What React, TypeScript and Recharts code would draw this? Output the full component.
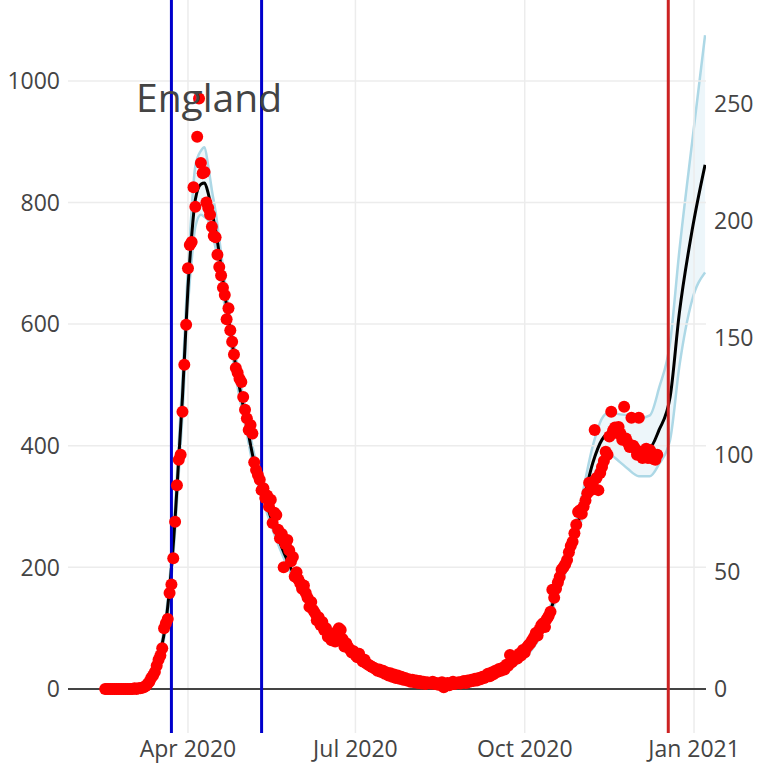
import {
  ComposedChart,
  Scatter,
  Line,
  Area,
  XAxis,
  YAxis,
  ReferenceLine,
} from 'recharts';

// day numbers count from 1 Jan 2020 = 0
const tickDays = [91, 182, 274, 366];
const tickLabels = ['Apr 2020', 'Jul 2020', 'Oct 2020', 'Jan 2021'];
const leftTicks = [0, 200, 400, 600, 800, 1000];
const rightTicks = [0, 50, 100, 150, 200, 250];

const lockdownDays = [82, 131];
const cutoffDay = 352;

// daily deaths, first value on day 46 (15 Feb 2020)
const firstDotDay = 46;
const dailyDeaths = [
  0, 0, 0, 0, 0, 0, 0, 0, 0, 0, 0, 0, 0, 0, 0, 0, 1, 0, 1, 1,
  2, 3, 5, 8, 12, 18, 22, 28, 38, 48, 55, 67, 100, 108, 115, 158, 172, 215, 275, 335,
  377, 385, 456, 533, 599, 692, 730, 735, 825, 793, 908, 971, 865, 848, 850, 800, 791, 780, 760, 745,
  743, 714, 694, 680, 660, 648, 608, 626, 590, 571, 550, 528, 520, 510, 505, 480, 459, 445, 426, 434,
  420, 373, 360, 352, 344, 327, 330, 314, 318, 300, 311, 273, 290, 286, 262, 248, 255, 200, 238, 245,
  228, 210, 217, 185, 192, 180, 174, 165, 170, 158, 150, 135, 143, 130, 125, 113, 118, 105, 110, 97,
  100, 86, 90, 80, 85, 78, 95, 100, 97, 82, 70, 75, 69, 65, 60, 62, 56, 52, 58, 50,
  45, 48, 42, 40, 38, 36, 35, 33, 30, 32, 28, 30, 25, 27, 22, 26, 20, 24, 18, 22,
  17, 20, 15, 18, 14, 16, 12, 15, 11, 14, 10, 13, 9, 12, 8, 11, 10, 9, 12, 8,
  10, 7, 9, 11, 3, 8, 10, 6, 9, 12, 8, 10, 11, 9, 12, 13, 10, 14, 12, 15,
  13, 17, 14, 18, 16, 20, 18, 22, 25, 21, 27, 24, 30, 28, 33, 30, 35, 32, 40, 38,
  56, 44, 48, 52, 50, 58, 55, 64, 60, 68, 72, 75, 80, 85, 92, 88, 98, 105, 108, 102,
  115, 120, 127, 163, 150, 165, 175, 184, 196, 200, 205, 212, 225, 235, 242, 256, 270, 291, 294, 288,
  300, 310, 322, 339, 327, 340, 426, 347, 327, 355, 365, 375, 390, 385, 415, 456, 425, 430, 421, 431,
  420, 410, 464, 412, 405, 398, 446, 400, 395, 385, 446, 390, 380, 388, 395, 380, 393, 388, 378, 377,
  385,
];

// smoothed fit and its band
const modelDays = [
  46, 60, 65, 68, 70, 73, 76, 79, 81, 84, 86, 88, 91, 93, 95, 98, 100, 102, 104, 106,
  108, 111, 114, 117, 122, 127, 133, 141, 152, 163, 174, 184, 195, 206, 217, 228, 239, 250, 261, 271,
  278, 284, 289, 294, 299, 304, 311, 316, 320, 325, 330, 336, 342, 347, 353, 358, 365, 372,
];
const modelMid = [
  0, 0, 2, 6, 12, 30, 60, 110, 165, 280, 380, 480, 660, 745, 805, 830, 832, 815, 785, 755,
  715, 650, 590, 530, 450, 372, 310, 240, 168, 115, 78, 52, 32, 20, 13, 9, 10, 16, 28, 48,
  70, 100, 138, 182, 230, 285, 372, 410, 421, 414, 405, 395, 397, 426, 480, 618, 755, 862,
];
const modelLo = [
  0, 0, 1, 5, 10, 26, 54, 100, 150, 260, 355, 450, 630, 705, 760, 780, 776, 770, 750, 725,
  690, 628, 570, 512, 435, 358, 298, 230, 160, 109, 73, 48, 29, 18, 11, 7, 8, 14, 25, 44,
  65, 94, 130, 172, 218, 268, 345, 378, 385, 375, 362, 350, 350, 370, 410, 530, 640, 685,
];
const modelHi = [
  1, 1, 3, 7, 14, 34, 66, 120, 180, 300, 405, 510, 695, 790, 860, 885, 891, 860, 820, 785,
  740, 672, 610, 548, 465, 386, 322, 250, 176, 121, 83, 56, 35, 22, 15, 11, 12, 18, 31, 52,
  75, 106, 146, 192, 242, 302, 400, 445, 455, 452, 450, 445, 450, 495, 570, 720, 900, 1075,
];

const dots = dailyDeaths.map((v, i) => ({ day: firstDotDay + i, deaths: v }));
const model = modelDays.map((d, i) => ({
  day: d,
  mid: modelMid[i],
  band: [modelLo[i], modelHi[i]],
}));

const font = '"Open Sans", sans-serif';
const tickStyle = { fill: '#444', fontSize: 23, fontFamily: font };
const gridColor = '#ececec';

const RedDot = (props: any) => {
  if (props.cx == null || props.cy == null) return null;
  return <circle cx={props.cx} cy={props.cy} r={6} fill="#ff0000" />;
};

export default function App() {
  return (
    <div style={{ position: 'absolute', left: 0, top: 0, width: 768, height: 768, background: '#fff' }}>
      <ComposedChart width={768} height={768} margin={{ top: 0, right: 0, bottom: 0, left: 0 }}>
        <XAxis
          type="number"
          dataKey="day"
          domain={[25.8, 372.5]}
          allowDataOverflow
          ticks={tickDays}
          tickFormatter={(v) => tickLabels[tickDays.indexOf(v)] ?? ''}
          tick={tickStyle}
          axisLine={false}
          tickLine={false}
          height={35}
        />
        <YAxis
          yAxisId="left"
          type="number"
          domain={[-72.4, 1133]}
          allowDataOverflow
          ticks={leftTicks}
          tick={tickStyle}
          axisLine={false}
          tickLine={false}
          width={68}
        />
        <YAxis
          yAxisId="right"
          orientation="right"
          type="number"
          domain={[-18.8, 294.4]}
          allowDataOverflow
          ticks={rightTicks}
          tick={tickStyle}
          axisLine={false}
          tickLine={false}
          width={62}
        />
        {leftTicks.slice(1).map((t) => (
          <ReferenceLine key={'h' + t} yAxisId="left" y={t} stroke={gridColor} strokeWidth={1.5} />
        ))}
        {tickDays.map((t) => (
          <ReferenceLine key={'v' + t} yAxisId="left" x={t} stroke={gridColor} strokeWidth={1.5} />
        ))}
        <ReferenceLine yAxisId="left" y={0} stroke="#444" strokeWidth={2} />
        <Area
          yAxisId="left"
          data={model}
          dataKey="band"
          type="monotone"
          stroke="#add8e6"
          strokeWidth={2.5}
          fill="#add8e6"
          fillOpacity={0.22}
          isAnimationActive={false}
        />
        <Line
          yAxisId="left"
          data={model}
          dataKey="mid"
          type="monotone"
          stroke="#000"
          strokeWidth={3}
          dot={false}
          isAnimationActive={false}
        />
        <Scatter
          yAxisId="left"
          data={dots}
          dataKey="deaths"
          shape={RedDot}
          isAnimationActive={false}
        />
        {lockdownDays.map((d) => (
          <ReferenceLine key={d} yAxisId="left" x={d} stroke="#0000cc" strokeWidth={3} />
        ))}
        <ReferenceLine yAxisId="left" x={cutoffDay} stroke="#cc2222" strokeWidth={3} />
      </ComposedChart>
      <svg width={768} height={768} style={{ position: 'absolute', left: 0, top: 0, pointerEvents: 'none' }}>
        <text x={136} y={112} fill="#444" fontSize={39} fontFamily={font}>
          England
        </text>
      </svg>
    </div>
  );
}
